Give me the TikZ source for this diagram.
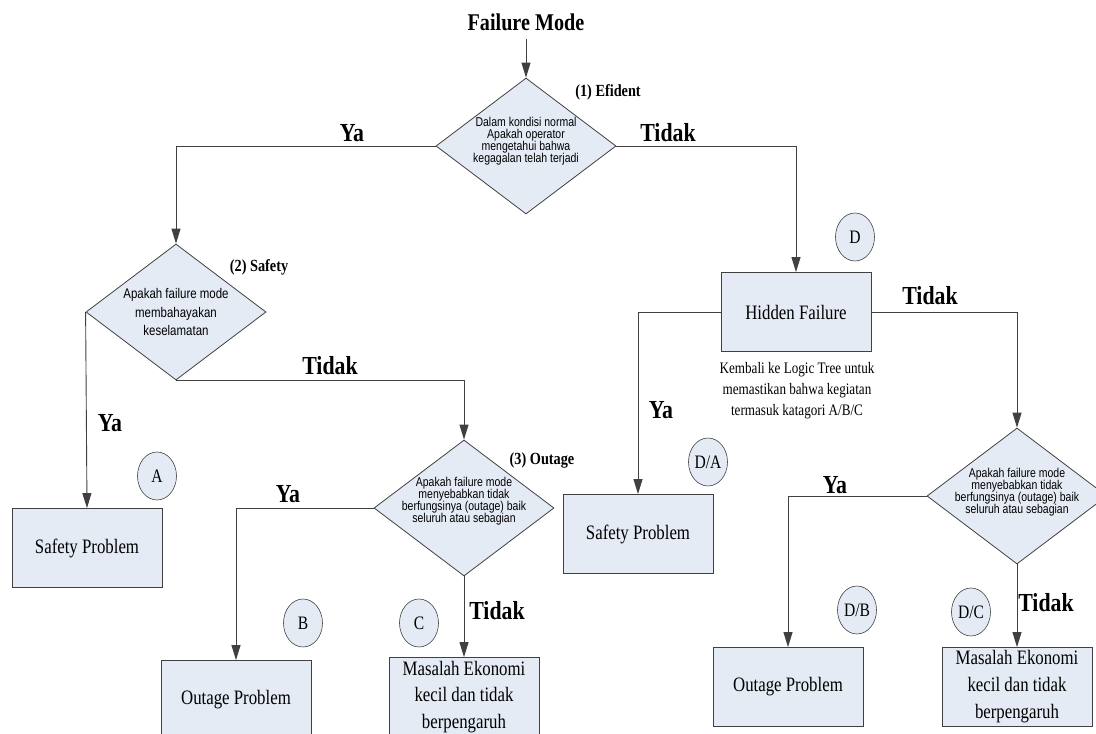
\documentclass[tikz,border=0pt]{standalone}
\usepackage{fontspec}
\setmainfont{Liberation Serif}
\newfontfamily\boxfont[FakeStretch=0.82]{Liberation Serif}
\newfontfamily\tagfont[FakeStretch=0.84]{Liberation Serif}
\newfontfamily\askfont[FakeStretch=0.82]{Liberation Sans}
\usetikzlibrary{arrows.meta,positioning,shapes.geometric}
\definecolor{isi}{HTML}{E5EBF5}
\definecolor{garis}{HTML}{404040}

\begin{document}
\begin{tikzpicture}[x=1pt,y=-1pt,>={Triangle[length=15pt,width=9pt]}]

        \tikzstyle{decision}=[shape=diamond,draw=garis,fill=isi,line width=0.8pt,minimum width=180pt,minimum height=136pt,inner sep=0pt]
        \tikzstyle{ask}=[align=center,font=\askfont\fontsize{12.8}{12}\selectfont,inner sep=0pt]
        \tikzstyle{block}=[shape=rectangle,draw=garis,fill=isi,line width=0.8pt,minimum width=150pt,minimum height=79pt,align=center,font=\boxfont\fontsize{20.5}{27}\selectfont,inner sep=0pt]
        \tikzstyle{tag}=[shape=ellipse,draw=garis,fill=isi,line width=0.6pt,minimum width=39pt,minimum height=48pt,inner sep=0pt,font=\boxfont\fontsize{19}{19}\selectfont]
        \tikzstyle{answer}=[font=\tagfont\bfseries\fontsize{26}{26}\selectfont,inner sep=0pt]
        \tikzstyle{crit}=[font=\tagfont\bfseries\fontsize{17}{17}\selectfont,inner sep=0pt]

        \useasboundingbox (0,0) rectangle (1096,734);

        % judul dan pertanyaan pertama
        \node[answer,font=\tagfont\bfseries\fontsize{24}{24}\selectfont,inner sep=8pt] (FM) at (526,22) {Failure Mode};
        \node[decision] (Q1) at (526,146) {};
        \node[ask] (Q1T) at (526,141) {Dalam kondisi normal\\Apakah operator\\mengetahui bahwa\\kegagalan telah terjadi};
        \node[crit] (K1) at (608,92) {(1) Efident};

        % cabang kiri
        \node[decision] (Q2) at (176,312) {};
        \node[ask,font=\askfont\fontsize{14}{18.5}\selectfont] (Q2T) at (176,312) {Apakah failure mode\\membahayakan\\keselamatan};
        \node[crit] (K2) at (259,267) {(2) Safety};
        \node[block] (SP1) at (87,548) {Safety Problem};
        \node[tag] (A) at (157,476) {A};

        \node[decision] (Q3) at (464,508) {};
        \node[ask] (Q3T) at (464,501) {Apakah failure mode\\menyebabkan tidak\\berfungsinya (outage) baik\\seluruh atau sebagian};
        \node[crit] (K3) at (542,460) {(3) Outage};
        \node[block] (OP1) at (236,700) {Outage Problem};
        \node[block,font=\boxfont\fontsize{20.5}{26.5}\selectfont] (M1) at (464,697) {Masalah Ekonomi\\kecil dan tidak\\berpengaruh};
        \node[tag] (B) at (303,623) {B};
        \node[tag] (C) at (419,623) {C};

        % cabang kanan
        \node[block] (HF) at (796,312) {Hidden Failure};
        \node[tag] (D) at (855,237) {D};
        \node[align=center,font=\boxfont\fontsize{16}{21}\selectfont,inner sep=0pt] (KB) at (797,391) {Kembali ke Logic Tree untuk\\memastikan bahwa kegiatan\\termasuk katagori A/B/C};
        \node[block] (SP2) at (638,534) {Safety Problem};
        \node[tag] (DA) at (708,462) {D/A};

        \node[decision] (Q4) at (1017,496) {};
        \node[ask] (Q4T) at (1017,492) {Apakah failure mode\\menyebabkan tidak\\berfungsinya (outage) baik\\seluruh atau sebagian};
        \node[block] (OP2) at (788,687) {Outage Problem};
        \node[block] (M2) at (1017,687) {Masalah Ekonomi\\kecil dan tidak\\berpengaruh};
        \node[tag] (DB) at (857,610) {D/B};
        \node[tag] (DC) at (971,612) {D/C};

        % jawaban
        \node[answer] (Y1) at (352,133) {Ya};
        \node[answer] (T1) at (668,133) {Tidak};
        \node[answer] (Y2) at (110,423) {Ya};
        \node[answer] (T2) at (330,366) {Tidak};
        \node[answer] (Y3) at (288,494) {Ya};
        \node[answer] (T3) at (497,611) {Tidak};
        \node[answer] (Y4) at (661,410) {Ya};
        \node[answer] (T4) at (930,296) {Tidak};
        \node[answer] (Y5) at (835,485) {Ya};
        \node[answer] (T5) at (1046,603) {Tidak};

        \begin{scope}[draw=garis,line width=0.9pt]
        \draw [->] (FM.south) -- (Q1.north);
        \draw [->] (Q1.west) -| (Q2.north);
        \draw [->] (Q1.east) -| (HF.north);
        \draw [->] (Q2.west) -- (SP1.north);
        \draw [->] (Q2.south) -| (Q3.north);
        \draw [->] (Q3.west) -| (OP1.north);
        \draw [->] (Q3.south) -- (M1.north);
        \draw [->] (HF.west) -| (SP2.north);
        \draw [->] (HF.east) -| (Q4.north);
        \draw [->] (Q4.west) -| (OP2.north);
        \draw [->] (Q4.south) -- (M2.north);
        \end{scope}
      \end{tikzpicture}
\end{document}
